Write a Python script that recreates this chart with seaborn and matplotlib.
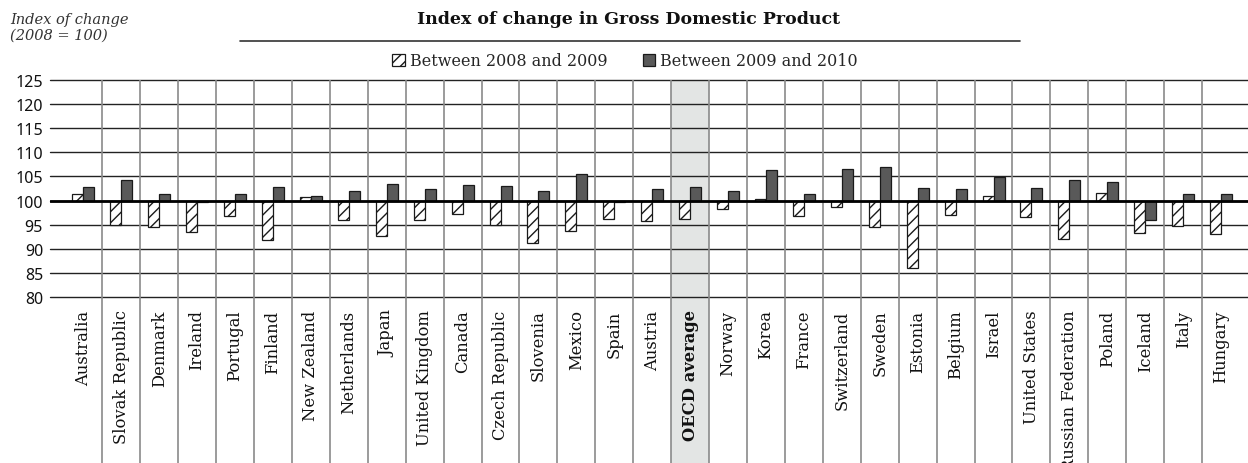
import pandas as pd
import matplotlib
matplotlib.use("Agg")
import matplotlib.pyplot as plt
from matplotlib.patches import Rectangle, Patch
import seaborn as sns

# Data (index, 2008 = 100)
countries = ["Australia", "Slovak Republic", "Denmark", "Ireland", "Portugal", "Finland",
             "New Zealand", "Netherlands", "Japan", "United Kingdom", "Canada",
             "Czech Republic", "Slovenia", "Mexico", "Spain", "Austria", "OECD average",
             "Norway", "Korea", "France", "Switzerland", "Sweden", "Estonia", "Belgium",
             "Israel", "United States", "Russian Federation", "Poland", "Iceland", "Italy",
             "Hungary"]
idx_2008_2009 = [101.3, 95.0, 94.5, 93.4, 96.9, 91.9, 100.7, 95.9, 92.6, 95.9, 97.2,
                 94.9, 91.3, 93.6, 96.1, 95.7, 96.1, 98.3, 100.3, 96.9, 98.6, 94.5,
                 86.0, 97.1, 101.0, 96.6, 92.1, 101.5, 93.2, 94.8, 93.1]
idx_2009_2010 = [102.8, 104.2, 101.3, 99.6, 101.3, 102.8, 100.9, 101.9, 103.4, 102.3, 103.2,
                 103.0, 102.0, 105.5, 99.7, 102.5, 102.8, 101.9, 106.3, 101.4, 106.6, 106.9,
                 102.7, 102.5, 104.8, 102.6, 104.3, 103.9, 95.9, 101.3, 101.3]
series = ["Between 2008 and 2009", "Between 2009 and 2010"]
y_ticks = [80, 85, 90, 95, 100, 105, 110, 115, 120, 125]

# long form, bars measured from the 100 baseline
df = pd.concat([
    pd.DataFrame({"country": countries, "period": series[0], "change": [v - 100 for v in idx_2008_2009]}),
    pd.DataFrame({"country": countries, "period": series[1], "change": [v - 100 for v in idx_2009_2010]}),
])

sns.set_style("white")
plt.rcParams["hatch.linewidth"] = 1.0

W, H = 1248, 464
fig = plt.figure(figsize=(W / 100, H / 100), dpi=100)
ax = fig.add_axes([50 / W, 166 / H, 1198 / W, 217 / H])

sns.barplot(data=df, x="country", y="change", hue="period", order=countries,
            hue_order=series, palette=["white", "#595959"], width=0.58,
            edgecolor="#1a1a1a", linewidth=0.9, legend=False, ax=ax, zorder=2)
for bar in ax.containers[0]:
    bar.set_hatch("///")
    bar.set_facecolor("white")

ax.set_xlim(-0.879, 30.71)
ax.set_ylim(-20, 25)
ax.set_yticks([t - 100 for t in y_ticks])
ax.set_yticklabels([str(t) for t in y_ticks], fontsize=11.5, family="Noto Sans", color="#111111")
ax.tick_params(axis="y", length=0, pad=5)
ax.tick_params(axis="x", length=0, pad=9)
ax.set_xticks(range(len(countries)))
ax.set_xticklabels(countries, rotation=90, va="top", ha="center", fontsize=11.8,
                   family="DejaVu Serif", color="#111111")
for lab in ax.get_xticklabels():
    if lab.get_text() == "OECD average":
        lab.set_fontweight("bold")
ax.set_xlabel("")
ax.set_ylabel("")
for s in ax.spines.values():
    s.set_visible(False)

# horizontal gridlines
for t in y_ticks:
    ax.axhline(t - 100, color="#222222", lw=1.0, zorder=1, clip_on=False)
ax.axhline(0, color="black", lw=2.0, zorder=3)

# category separators running down through the label area
bottom = -(H - 298) / 217
trans = ax.get_xaxis_transform()
oecd = countries.index("OECD average")
ax.add_patch(Rectangle((oecd - 0.5, bottom), 1, 1 - bottom, transform=trans,
                       facecolor="#e3e5e4", edgecolor="none", clip_on=False, zorder=0))
ax.vlines([i + 0.5 for i in range(len(countries) - 1)], bottom, 1, transform=trans,
          colors="#8a8a8a", lw=1.2, clip_on=False, zorder=1)

# titles and legend
fig.text(629 / W, 1 - 20 / H, "Index of change in Gross Domestic Product", ha="center", va="center",
         fontsize=12.5, fontweight="bold", family="DejaVu Serif", color="#111111")
fig.add_artist(plt.Line2D([240 / W, 1020 / W], [1 - 42 / H, 1 - 42 / H], color="#333333", lw=1.2))
fig.text(10 / W, 1 - 28 / H, "Index of change\n(2008 = 100)", ha="left", va="center",
         fontsize=10.5, style="italic", family="DejaVu Serif", color="#333333", linespacing=1.1)

handles = [Patch(facecolor="white", edgecolor="#1a1a1a", hatch="///", linewidth=0.9),
           Patch(facecolor="#595959", edgecolor="#1a1a1a", linewidth=0.9)]
fig.legend(handles, series, loc="center", bbox_to_anchor=(625 / W, 1 - 62 / H), ncol=2,
           frameon=False, handlelength=0.8, handleheight=0.8, handletextpad=0.3,
           columnspacing=2.2, prop={"family": "DejaVu Serif", "size": 11.5})

fig.savefig("out.png", dpi=100)
